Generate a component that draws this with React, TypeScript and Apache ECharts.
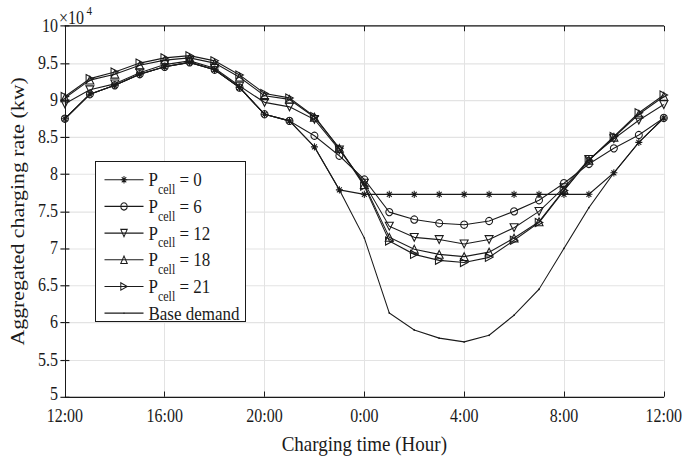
import React, { useEffect, useRef } from "react";
import * as echarts from "echarts";

// Hour of day for each sample (one per hour, noon to noon)
const hourLabels = [
  "12:00", "13:00", "14:00", "15:00", "16:00", "17:00", "18:00", "19:00",
  "20:00", "21:00", "22:00", "23:00", "0:00", "1:00", "2:00", "3:00",
  "4:00", "5:00", "6:00", "7:00", "8:00", "9:00", "10:00", "11:00", "12:00",
];

// Aggregated charging rate, in units of 10^4 kW
const pCell0 = [8.75, 9.08, 9.2, 9.35, 9.45, 9.51, 9.41, 9.17, 8.81, 8.72, 8.37, 7.79,
  7.73, 7.73, 7.73, 7.73, 7.73, 7.73, 7.73, 7.73, 7.73, 7.73, 8.02, 8.43, 8.76];
const pCell6 = [8.75, 9.08, 9.2, 9.35, 9.45, 9.51, 9.41, 9.17, 8.81, 8.72, 8.52, 8.25,
  7.93, 7.49, 7.39, 7.34, 7.32, 7.37, 7.5, 7.65, 7.88, 8.14, 8.35, 8.53, 8.76];
const pCell12 = [8.95, 9.14, 9.22, 9.37, 9.48, 9.53, 9.43, 9.19, 8.97, 8.91, 8.74, 8.33,
  7.88, 7.3, 7.15, 7.12, 7.06, 7.12, 7.28, 7.5, 7.82, 8.2, 8.48, 8.73, 8.94];
const pCell18 = [9.03, 9.27, 9.35, 9.47, 9.54, 9.57, 9.5, 9.31, 9.06, 9.01, 8.77, 8.35,
  7.86, 7.15, 6.99, 6.92, 6.89, 6.95, 7.14, 7.36, 7.79, 8.19, 8.5, 8.81, 9.05];
const pCell21 = [9.05, 9.29, 9.38, 9.5, 9.57, 9.6, 9.53, 9.34, 9.09, 9.03, 8.78, 8.35,
  7.84, 7.1, 6.92, 6.84, 6.81, 6.88, 7.11, 7.35, 7.78, 8.19, 8.51, 8.83, 9.07];
const baseDemand = [8.75, 9.08, 9.2, 9.35, 9.45, 9.51, 9.41, 9.17, 8.81, 8.72, 8.37, 7.79,
  7.14, 6.13, 5.9, 5.79, 5.74, 5.83, 6.1, 6.45, 7.0, 7.55, 8.02, 8.43, 8.76];

const cellCounts = [0, 6, 12, 18, 21];
const cellSeries = [pCell0, pCell6, pCell12, pCell18, pCell21];
const yMin = 5;
const yMax = 10;

const FONT = "Liberation Serif";
const INK = "#1a1a1a";
const GRID = "#e3e3e3";

// The figure is slightly taller than its type: draw at 685x400 and stretch vertically.
const K = 1.15;
const W = 685;
const H = 400;

const SYM_STAR = "path://M5,0 L5,10 M0,5 L10,5 M1.5,1.5 L8.5,8.5 M1.5,8.5 L8.5,1.5";
const SYM_DOWN = "path://M0,0 L10,0 L5,8.66 Z";
const SYM_UP = "path://M5,0 L10,8.66 L0,8.66 Z";
const SYM_RIGHT = "path://M0,0 L8.66,5 L0,10 Z";
const SYM_DOT = "path://M0,0 M10,10 M4,5 A1,1 0 1 0 6,5 A1,1 0 1 0 4,5 Z";
const symbols = [SYM_STAR, "circle", SYM_DOWN, SYM_UP, SYM_RIGHT];
const symSizes = [[7, 6.3], [7, 6.3], [8, 6.8], [8, 6.8], [7.5, 7]];

export default function App() {
  const ref = useRef<HTMLDivElement>(null);

  useEffect(() => {
    if (!ref.current) return;
    const chart = echarts.init(ref.current, undefined, { renderer: "svg" });

    const toXY = (arr: number[]) => arr.map((v, i) => [i, v]);
    const names = cellCounts.map((n) => `P_cell = ${n}`);

    const series: any[] = cellSeries.map((arr, k) => ({
      name: names[k],
      type: "line",
      data: toXY(arr),
      symbol: symbols[k],
      symbolSize: symSizes[k],
      showAllSymbol: true,
      lineStyle: { color: INK, width: 1 },
      itemStyle: { color: "rgba(0,0,0,0)", borderColor: INK, borderWidth: 1 },
      emphasis: { disabled: true },
      z: 2,
    }));
    series.push({
      name: "Base demand",
      type: "line",
      data: toXY(baseDemand),
      symbol: SYM_DOT,
      symbolSize: 8,
      lineStyle: { color: INK, width: 1 },
      itemStyle: { color: INK, borderWidth: 0 },
      emphasis: { disabled: true },
      z: 2,
    });

    const axisLine = { show: true, lineStyle: { color: INK, width: 1 } };
    const tick = { show: true, inside: true, length: 4.5, lineStyle: { color: INK } };

    chart.setOption({
      animation: false,
      grid: { left: 57.5, right: 18, top: 26 / K, bottom: 56 / K, containLabel: false },
      xAxis: [
        {
          type: "value",
          min: 0,
          max: 24,
          interval: 4,
          position: "bottom",
          axisLine,
          axisTick: tick,
          axisLabel: {
            color: INK,
            fontFamily: FONT,
            fontSize: 16,
            lineHeight: 14,
            margin: 10,
            formatter: (v: number) => hourLabels[v],
          },
          splitLine: { show: true, lineStyle: { color: GRID, width: 1 } },
          name: "Charging time (Hour)",
          nameLocation: "middle",
          nameGap: 31,
          nameTextStyle: { color: INK, fontFamily: FONT, fontSize: 19 },
        },
        {
          type: "value",
          min: 0,
          max: 24,
          interval: 4,
          position: "top",
          axisLine,
          axisTick: tick,
          axisLabel: { show: false },
          splitLine: { show: false },
        },
      ],
      yAxis: [
        {
          type: "value",
          min: yMin,
          max: yMax,
          interval: 0.5,
          position: "left",
          axisLine,
          axisTick: tick,
          axisLabel: {
            color: INK,
            fontFamily: FONT,
            fontSize: 16,
            lineHeight: 14,
            margin: 7,
            formatter: (v: number) => (v === yMin ? `{lo|${v}}` : String(v)),
            rich: {
              lo: { color: INK, fontFamily: FONT, fontSize: 16, lineHeight: 14, padding: [0, 0, 5, 0] },
            },
          },
          splitLine: { show: true, lineStyle: { color: GRID, width: 1 } },
          name: "Aggregated charging rate (kw)",
          nameLocation: "middle",
          nameGap: 33,
          nameTextStyle: { color: INK, fontFamily: FONT, fontSize: 19 },
        },
        {
          type: "value",
          min: yMin,
          max: yMax,
          interval: 0.5,
          position: "right",
          axisLine,
          axisTick: tick,
          axisLabel: { show: false },
          splitLine: { show: false },
        },
      ],
      legend: {
        show: true,
        orient: "vertical",
        left: 104,
        top: 141.8,
        padding: 0,
        itemGap: -5.8,
        itemWidth: 39,
        itemHeight: 8,
        selectedMode: false,
        data: [...names, "Base demand"],
        itemStyle: { borderWidth: 1 },
        lineStyle: { width: 1 },
        formatter: (name: string) => {
          if (name.indexOf("P_cell") === 0) {
            const n = name.split("= ")[1];
            return `{p|P}{s|cell}{p| = ${n}}`;
          }
          return `{p|${name}}`;
        },
        textStyle: {
          color: INK,
          fontFamily: FONT,
          fontSize: 17,
          lineHeight: 29,
          rich: {
            p: { color: INK, fontFamily: FONT, fontSize: 17, lineHeight: 29 },
            s: {
              color: INK,
              fontFamily: FONT,
              fontSize: 12,
              lineHeight: 12,
              padding: [16.8, 0, 0, 0],
              verticalAlign: "top",
            },
          },
        },
        z: 5,
      },
      graphic: [
        {
          type: "rect",
          shape: { x: 95.5, y: 161.5 / K, width: 150, height: 160 / K },
          style: { fill: "#fff", stroke: INK, lineWidth: 1 },
          z: 4,
          silent: true,
        },
        {
          type: "text",
          x: 59,
          y: 18 / K,
          style: {
            text: "×10",
            fill: INK,
            fontFamily: FONT,
            fontSize: 16,
            verticalAlign: "middle",
          },
          z: 5,
        },
        {
          type: "text",
          x: 86.5,
          y: 11 / K,
          style: {
            text: "4",
            fill: INK,
            fontFamily: FONT,
            fontSize: 11,
            verticalAlign: "middle",
          },
          z: 5,
        },
      ],
      series,
    });

    return () => chart.dispose();
  }, []);

  return (
    <div
      style={{
        position: "fixed",
        left: 0,
        top: 0,
        width: W,
        height: 460,
        overflow: "hidden",
        background: "#fff",
      }}
    >
      <div
        ref={ref}
        style={{
          width: W,
          height: H,
          transform: `scaleY(${K})`,
          transformOrigin: "0 0",
        }}
      />
    </div>
  );
}
